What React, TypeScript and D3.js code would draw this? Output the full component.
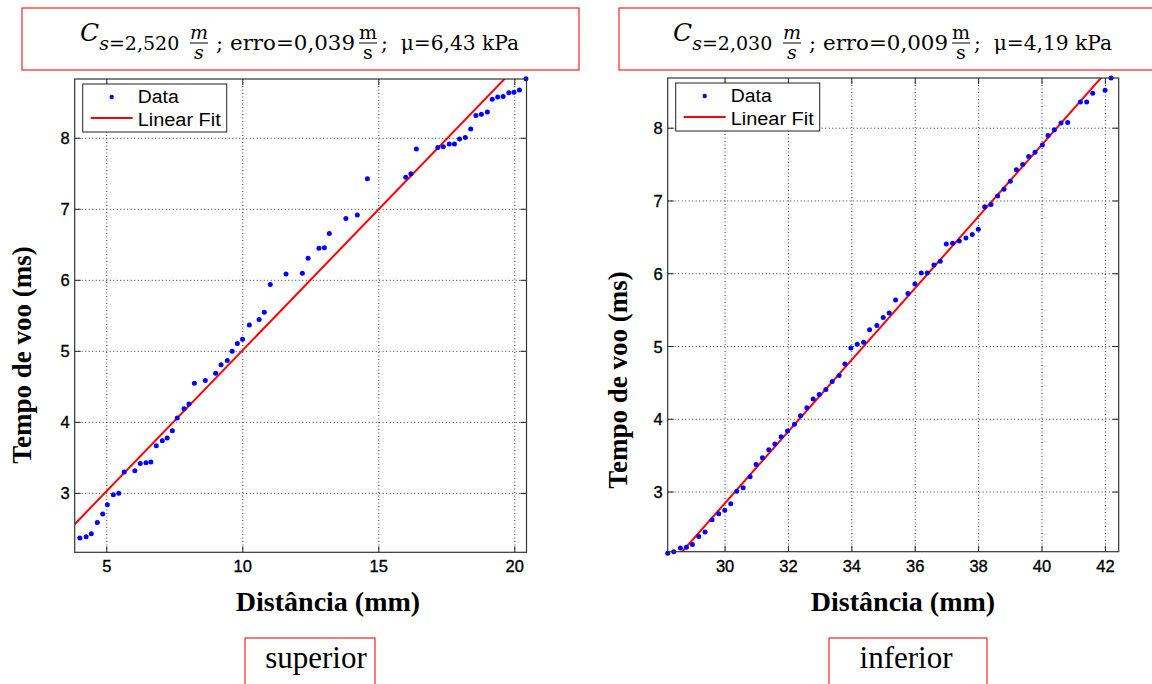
import React from "react";
import * as d3 from "d3";

// ---------- data ----------
const supX = [4.01, 4.24, 4.43, 4.65, 4.85, 5.02, 5.24, 5.44, 5.64, 6.03, 6.23, 6.44, 6.62, 6.82, 7.04, 7.22, 7.41, 7.59, 7.84, 8.02, 8.22, 8.62, 9.0, 9.2, 9.43, 9.61, 9.8, 9.99, 10.24, 10.6, 10.79, 11.01, 11.59, 12.19, 12.4, 12.8, 13.0, 13.18, 13.79, 14.21, 14.58, 15.99, 16.18, 16.38, 17.17, 17.37, 17.59, 17.78, 17.97, 18.18, 18.38, 18.57, 18.77, 18.99, 19.17, 19.37, 19.57, 19.78, 19.97, 20.17, 20.41];
const supY = [2.37, 2.39, 2.43, 2.59, 2.71, 2.84, 2.98, 3.0, 3.3, 3.32, 3.42, 3.43, 3.44, 3.67, 3.74, 3.78, 3.88, 4.06, 4.19, 4.26, 4.55, 4.59, 4.69, 4.81, 4.87, 5.0, 5.11, 5.17, 5.37, 5.45, 5.55, 5.94, 6.09, 6.1, 6.31, 6.45, 6.46, 6.66, 6.87, 6.92, 7.43, 7.45, 7.5, 7.85, 7.87, 7.88, 7.92, 7.92, 7.99, 8.01, 8.13, 8.32, 8.34, 8.37, 8.55, 8.58, 8.59, 8.64, 8.65, 8.68, 8.84];
const infX = [28.19, 28.38, 28.59, 28.78, 28.97, 29.17, 29.37, 29.59, 29.8, 29.99, 30.18, 30.37, 30.57, 30.79, 30.98, 31.18, 31.38, 31.57, 31.77, 31.97, 32.19, 32.38, 32.58, 32.78, 32.97, 33.18, 33.38, 33.6, 33.78, 33.97, 34.17, 34.37, 34.56, 34.79, 34.99, 35.18, 35.38, 35.77, 35.99, 36.19, 36.38, 36.59, 36.79, 36.98, 37.18, 37.39, 37.6, 37.8, 37.99, 38.19, 38.39, 38.6, 38.8, 39.0, 39.19, 39.39, 39.58, 39.78, 40.01, 40.19, 40.39, 40.6, 40.81, 41.21, 41.41, 41.6, 41.99, 42.18];
const infY = [2.16, 2.18, 2.23, 2.24, 2.28, 2.39, 2.45, 2.62, 2.7, 2.75, 2.84, 3.01, 3.06, 3.21, 3.38, 3.47, 3.58, 3.66, 3.76, 3.84, 3.93, 4.05, 4.16, 4.28, 4.34, 4.41, 4.52, 4.6, 4.76, 4.98, 5.03, 5.06, 5.23, 5.29, 5.4, 5.46, 5.64, 5.73, 5.86, 6.01, 6.01, 6.12, 6.17, 6.41, 6.42, 6.45, 6.49, 6.54, 6.61, 6.92, 6.95, 7.07, 7.16, 7.27, 7.43, 7.5, 7.61, 7.67, 7.77, 7.9, 7.98, 8.07, 8.08, 8.36, 8.36, 8.48, 8.52, 8.69];

// fit: [slope, intercept]
const supFit = [0.3968, 1.05];
const infFit = [0.4926, -11.93];

const supXDomain = [3.82, 20.43];
const supYDomain = [2.17, 8.835];
const infXDomain = [28.19, 42.42];
const infYDomain = [2.18, 8.69];

const supXTicks = [5, 10, 15, 20];
const infXTicks = [30, 32, 34, 36, 38, 40, 42];
const yTicks = [3, 4, 5, 6, 7, 8];

const supTitle = ["2,520", "0,039", "6,43"];
const infTitle = ["2,030", "0,009", "4,19"];

const legendLabels = ["Data", "Linear Fit"];
const xLabel = "Distância (mm)";
const yLabel = "Tempo de voo (ms)";

// ---------- components ----------
type PanelProps = {
  id: string;
  xs: number[];
  ys: number[];
  fit: number[];
  xDomain: number[];
  yDomain: number[];
  xTicks: number[];
  left: number;
  right: number;
  top: number;
  bottom: number;
  yLabelX: number;
  yLabelY: number;
  xLabelX: number;
};

const sans = "Liberation Sans, Arial, sans-serif";
const serif = "Liberation Serif, Times New Roman, serif";

function Panel(p: PanelProps) {
  const x = d3.scaleLinear().domain(p.xDomain).range([p.left, p.right]);
  const y = d3.scaleLinear().domain(p.yDomain).range([p.bottom, p.top]);
  const fitPts: [number, number][] = p.xDomain.map((v) => [v, p.fit[0] * v + p.fit[1]]);
  const line = d3
    .line<[number, number]>()
    .x((d) => x(d[0]))
    .y((d) => y(d[1]));
  const tl = 6;
  const gridStyle = { stroke: "#333", strokeWidth: 1, strokeDasharray: "1,2.5" };
  const lx = p.left + 8;
  const ly = p.top + 5;
  return (
    <g>
      <defs>
        <clipPath id={`clip-${p.id}`}>
          <rect x={p.left} y={p.top} width={p.right - p.left} height={p.bottom - p.top} />
        </clipPath>
      </defs>
      <rect x={p.left} y={p.top} width={p.right - p.left} height={p.bottom - p.top} fill="#fff" />
      {p.xTicks.map((t) => (
        <line key={"gx" + t} x1={x(t)} x2={x(t)} y1={p.top} y2={p.bottom} style={gridStyle} />
      ))}
      {yTicks.map((t) => (
        <line key={"gy" + t} x1={p.left} x2={p.right} y1={y(t)} y2={y(t)} style={gridStyle} />
      ))}
      {p.xTicks.map((t) => (
        <g key={"tx" + t} stroke="#222" strokeWidth={1}>
          <line x1={x(t)} x2={x(t)} y1={p.bottom} y2={p.bottom - tl} />
          <line x1={x(t)} x2={x(t)} y1={p.top} y2={p.top + tl} />
        </g>
      ))}
      {yTicks.map((t) => (
        <g key={"ty" + t} stroke="#222" strokeWidth={1}>
          <line x1={p.left} x2={p.left + tl} y1={y(t)} y2={y(t)} />
          <line x1={p.right} x2={p.right - tl} y1={y(t)} y2={y(t)} />
        </g>
      ))}
      <path
        d={line(fitPts) || ""}
        fill="none"
        stroke="#ff0000"
        strokeWidth={2}
        clipPath={`url(#clip-${p.id})`}
      />
      {p.xs.map((v, i) => (
        <circle key={"d" + i} cx={x(v)} cy={y(p.ys[i])} r={2.5} fill="#0000ff" />
      ))}
      <rect
        x={p.left}
        y={p.top}
        width={p.right - p.left}
        height={p.bottom - p.top}
        fill="none"
        stroke="#333"
        strokeWidth={1.2}
      />
      {p.xTicks.map((t) => (
        <text
          key={"lx" + t}
          x={x(t)}
          y={p.bottom + 20}
          textAnchor="middle"
          fontFamily={sans}
          fontSize={16.5}
          fill="#000"
          stroke="#000"
          strokeWidth={0.35}
        >
          {t}
        </text>
      ))}
      {yTicks.map((t) => (
        <text
          key={"ly" + t}
          x={p.left - 5}
          y={y(t) + 6}
          textAnchor="end"
          fontFamily={sans}
          fontSize={16.5}
          fill="#000"
          stroke="#000"
          strokeWidth={0.35}
        >
          {t}
        </text>
      ))}
      <rect x={lx} y={ly} width={144} height={48} fill="#fff" stroke="#222" strokeWidth={1} />
      <circle cx={lx + 29} cy={ly + 13} r={2.2} fill="#0000ff" />
      <line x1={lx + 8} x2={lx + 50} y1={ly + 34} y2={ly + 34} stroke="#ff0000" strokeWidth={2} />
      <text x={lx + 55} y={ly + 19} fontFamily={sans} fontSize={18} fill="#000" textLength={41} lengthAdjust="spacingAndGlyphs">
        {legendLabels[0]}
      </text>
      <text x={lx + 55} y={ly + 42} fontFamily={sans} fontSize={18} fill="#000" textLength={83} lengthAdjust="spacingAndGlyphs">
        {legendLabels[1]}
      </text>
      <text
        x={p.xLabelX}
        y={611}
        textAnchor="middle"
        fontFamily={serif}
        fontWeight="bold"
        fontSize={28}
        fill="#000"
      >
        {xLabel}
      </text>
      <text
        transform={`translate(${p.yLabelX},${p.yLabelY}) rotate(-90)`}
        textAnchor="middle"
        fontFamily={serif}
        fontWeight="bold"
        fontSize={27}
        fill="#000"
      >
        {yLabel}
      </text>
    </g>
  );
}

function Title({ bx, bw, x0, vals }: { bx: number; bw: number; x0: number; vals: string[] }) {
  const f = "DejaVu Serif, Liberation Serif, serif";
  const base = 50;
  const frac = (cx: number, italic: boolean) => (
    <g>
      <text x={cx} y={39} textAnchor="middle" fontFamily={f} fontSize={19} fontStyle={italic ? "italic" : "normal"}>
        m
      </text>
      <line x1={cx - 9} x2={cx + 9} y1={43} y2={43} stroke="#000" strokeWidth={1} />
      <text x={cx} y={59} textAnchor="middle" fontFamily={f} fontSize={19} fontStyle={italic ? "italic" : "normal"}>
        s
      </text>
    </g>
  );
  return (
    <g>
      <rect x={bx} y={8} width={bw} height={62} fill="#fff" stroke="#ff2020" strokeWidth={1.2} />
      <text x={x0 - 1} y={41} fontFamily={f}>
        <tspan fontSize={25} fontStyle="italic">C</tspan>
        <tspan dy={9} fontSize={19} fontStyle="italic">s</tspan>
        <tspan fontSize={19}>{"=" + vals[0]}</tspan>
      </text>
      {frac(x0 + 118, true)}
      <text x={x0 + 135} y={base} fontFamily={f} fontSize={20} textLength={139} lengthAdjust="spacingAndGlyphs">
        {"; erro=" + vals[1]}
      </text>
      {frac(x0 + 287, false)}
      <text x={x0 + 300} y={base} fontFamily={f} fontSize={20} textLength={138} lengthAdjust="spacingAndGlyphs">
        {";\u00a0 μ=" + vals[2] + " kPa"}
      </text>
    </g>
  );
}

export default function App() {
  return (
    <svg width={1152} height={684} style={{ position: "absolute", left: 0, top: 0, background: "#fff" }}>
      <rect x={0} y={0} width={1152} height={684} fill="#fff" />
      <Title bx={22} bw={557} x0={81} vals={supTitle} />
      <Title bx={619} bw={560} x0={674} vals={infTitle} />
      <Panel
        id="sup"
        xs={supX}
        ys={supY}
        fit={supFit}
        xDomain={supXDomain}
        yDomain={supYDomain}
        xTicks={supXTicks}
        left={74.7}
        right={526.5}
        top={79}
        bottom={552.3}
        yLabelX={31}
        yLabelY={355}
        xLabelX={328}
      />
      <Panel
        id="inf"
        xs={infX}
        ys={infY}
        fit={infFit}
        xDomain={infXDomain}
        yDomain={infYDomain}
        xTicks={infXTicks}
        left={667.7}
        right={1118.7}
        top={78}
        bottom={551.7}
        yLabelX={627}
        yLabelY={380}
        xLabelX={903}
      />
      <rect x={245} y={638} width={130} height={60} fill="none" stroke="#ff2020" strokeWidth={1.2} />
      <text x={316} y={668} textAnchor="middle" fontFamily={serif} fontSize={31}>
        superior
      </text>
      <rect x={829} y={638} width={158} height={60} fill="none" stroke="#ff2020" strokeWidth={1.2} />
      <text x={906} y={668} textAnchor="middle" fontFamily={serif} fontSize={31}>
        inferior
      </text>
    </svg>
  );
}
